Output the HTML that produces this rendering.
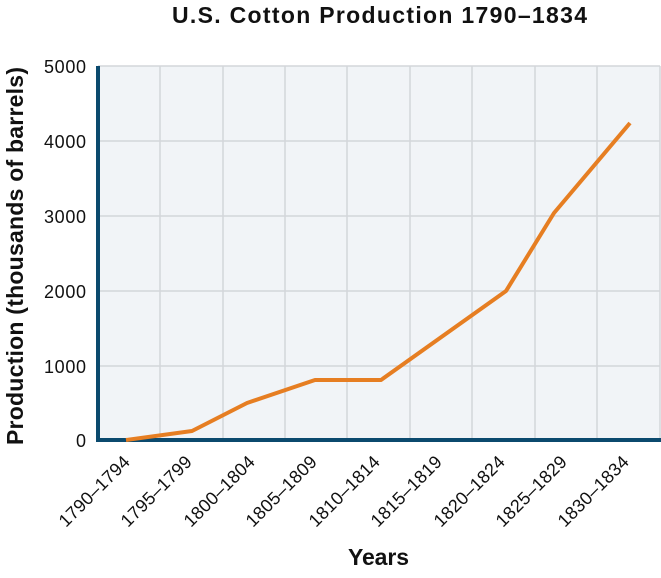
<!DOCTYPE html>
<html><head><style>body{margin:0;background:#fff}</style></head><body>
<svg width="661" height="573" xmlns="http://www.w3.org/2000/svg" font-family="Liberation Sans, sans-serif">
<rect x="98" y="66" width="562" height="374" fill="#f1f4f7"/>
<g stroke="#d3d6da" stroke-width="1.5">
<line x1="98" y1="66" x2="660" y2="66"/><line x1="98" y1="141" x2="660" y2="141"/><line x1="98" y1="216" x2="660" y2="216"/><line x1="98" y1="291" x2="660" y2="291"/><line x1="98" y1="366" x2="660" y2="366"/>
<line x1="160" y1="66" x2="160" y2="440"/><line x1="223" y1="66" x2="223" y2="440"/><line x1="285" y1="66" x2="285" y2="440"/><line x1="347" y1="66" x2="347" y2="440"/><line x1="410" y1="66" x2="410" y2="440"/><line x1="472" y1="66" x2="472" y2="440"/><line x1="535" y1="66" x2="535" y2="440"/><line x1="597" y1="66" x2="597" y2="440"/><line x1="660" y1="66" x2="660" y2="440"/>
</g>
<line x1="98" y1="66" x2="98" y2="442" stroke="#0b4a6e" stroke-width="4"/>
<line x1="96" y1="440" x2="661" y2="440" stroke="#0b4a6e" stroke-width="4"/>
<polyline fill="none" stroke="#e67e22" stroke-width="4" stroke-linejoin="round" points="126,440 192,431 247,403 315,380 381,380 506,291 554,213 630,123"/>
<g font-size="18" text-anchor="end" fill="#111">
<text x="86" y="73" textLength="42">5000</text><text x="86" y="148" textLength="42">4000</text><text x="86" y="223" textLength="42">3000</text><text x="86" y="298" textLength="42">2000</text><text x="86" y="373" textLength="42">1000</text><text x="86" y="447">0</text>
</g>
<g font-size="18" text-anchor="end" fill="#111">
<text transform="translate(131,463) rotate(-45)" textLength="92">1790–1794</text>
<text transform="translate(193,463) rotate(-45)" textLength="92">1795–1799</text>
<text transform="translate(256,463) rotate(-45)" textLength="92">1800–1804</text>
<text transform="translate(318,463) rotate(-45)" textLength="92">1805–1809</text>
<text transform="translate(381,463) rotate(-45)" textLength="92">1810–1814</text>
<text transform="translate(443,463) rotate(-45)" textLength="92">1815–1819</text>
<text transform="translate(506,463) rotate(-45)" textLength="92">1820–1824</text>
<text transform="translate(568,463) rotate(-45)" textLength="92">1825–1829</text>
<text transform="translate(630,463) rotate(-45)" textLength="92">1830–1834</text>
</g>
<text x="172" y="23" font-size="23" font-weight="bold" fill="#111" textLength="415">U.S. Cotton Production 1790–1834</text>
<text x="348" y="565" font-size="23" font-weight="bold" fill="#111" textLength="61">Years</text>
<text transform="translate(23,445) rotate(-90)" font-size="23" font-weight="bold" fill="#111" textLength="378">Production (thousands of barrels)</text>
</svg>
</body></html>
